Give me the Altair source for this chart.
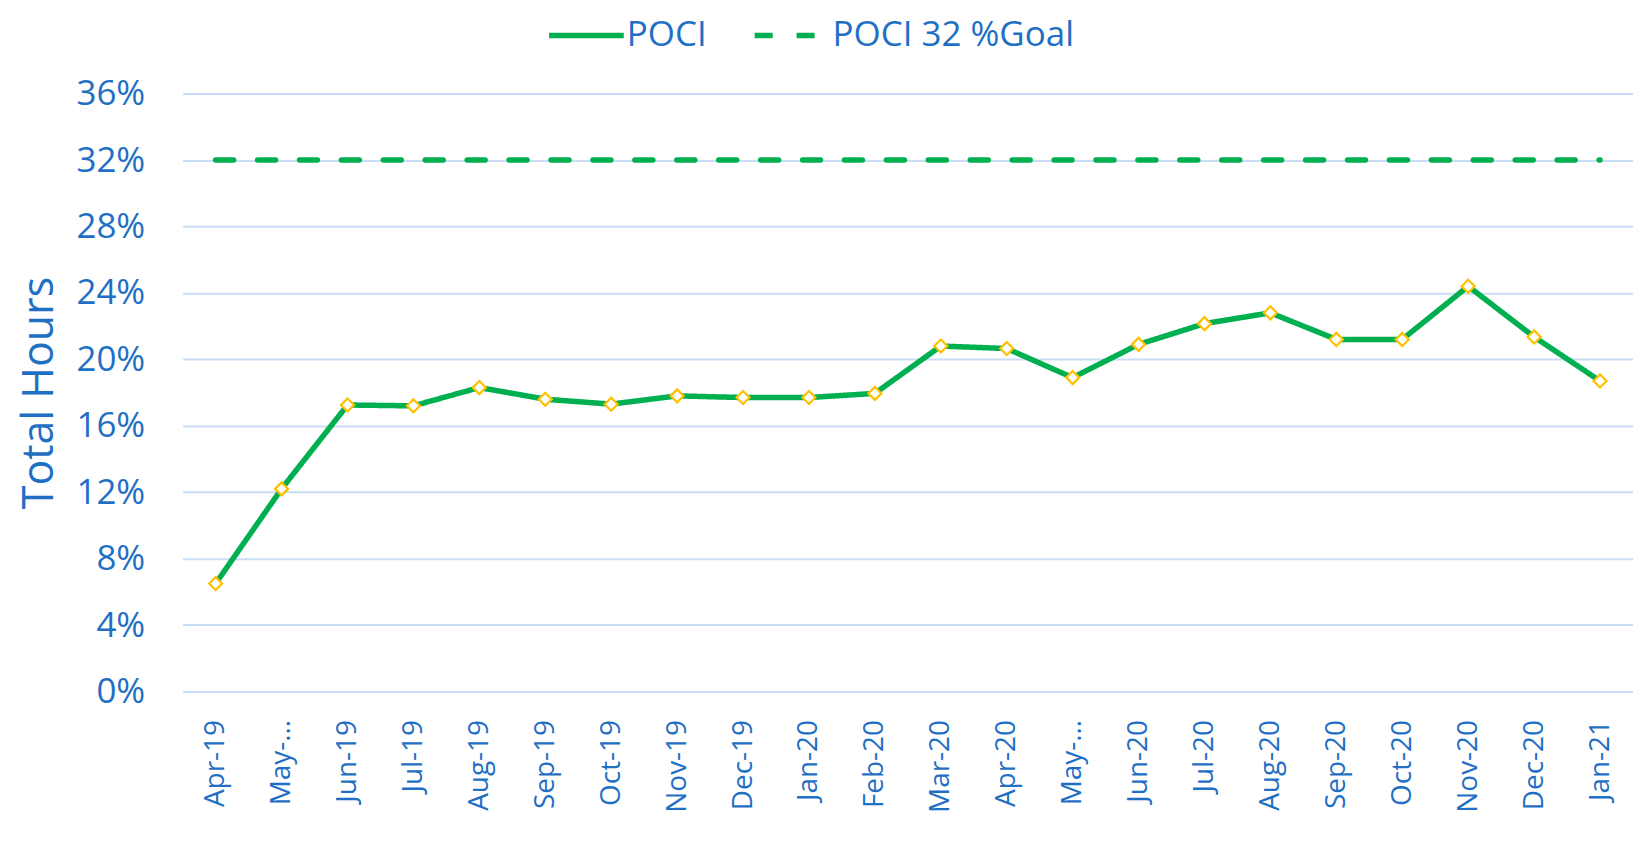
import altair as alt
import pandas as pd

months = ["Apr-19", "May-19", "Jun-19", "Jul-19", "Aug-19", "Sep-19", "Oct-19",
          "Nov-19", "Dec-19", "Jan-20", "Feb-20", "Mar-20", "Apr-20", "May-20",
          "Jun-20", "Jul-20", "Aug-20", "Sep-20", "Oct-20", "Nov-20", "Dec-20", "Jan-21"]
poci = [0.065, 0.122, 0.1725, 0.172, 0.183, 0.176, 0.173, 0.178, 0.177, 0.177,
        0.1795, 0.208, 0.2065, 0.189, 0.209, 0.2215, 0.228, 0.212, 0.212, 0.244,
        0.2135, 0.187]
goal = [0.32] * len(months)
series_names = ["POCI", "POCI 32 %Goal"]
y_ticks = [0, 0.04, 0.08, 0.12, 0.16, 0.20, 0.24, 0.28, 0.32, 0.36]

BLUE = "#1F6FC4"
GREEN = "#00B050"
GRID = "#C9DEF4"
FONT = "Open Sans"

df = pd.DataFrame({
    "Month": months * 2,
    "Value": poci + goal,
    "Series": [series_names[0]] * len(months) + [series_names[1]] * len(months),
})
df_poci = df[df["Series"] == "POCI"]

x_enc = alt.X("Month:O", sort=months, title=None,
              axis=alt.Axis(labelAngle=-90, labelAlign="right", labelBaseline="middle",
                            labelFontSize=28, labelColor=BLUE, labelFont=FONT,
                            ticks=False, domain=False, labelPadding=28,
                            labelExpr="indexof(datum.label, 'May-') == 0 ? 'May-\u2026' : datum.label"))
y_enc = alt.Y("Value:Q", title="Total Hours",
              scale=alt.Scale(domain=[0, 0.36], nice=False),
              axis=alt.Axis(values=y_ticks, format=".0%", labelFontSize=35, labelColor=BLUE,
                            labelFont=FONT, titleFont=FONT, titleFontSize=43,
                            titleColor=BLUE, titleFontWeight="normal", titlePadding=14,
                            ticks=False, domain=False, labelPadding=38,
                            grid=True, gridColor=GRID, gridWidth=2))

lines = alt.Chart(df).mark_line(strokeCap="round", strokeWidth=5.5).encode(
    x=x_enc,
    y=y_enc,
    color=alt.Color("Series:N", scale=alt.Scale(domain=series_names, range=[GREEN, GREEN]),
                    legend=alt.Legend(orient="none", legendX=364, legendY=-99, direction="horizontal",
                                      title=None, symbolType="stroke", symbolSize=5600,
                                      symbolStrokeWidth=5.5, labelFontSize=35, labelColor=BLUE,
                                      labelFont=FONT, columnPadding=36, labelOffset=0,
                                      labelLimit=500)),
    strokeDash=alt.StrokeDash("Series:N", scale=alt.Scale(domain=series_names, range=[[1, 0], [18, 24]]),
                              legend=None),
)

points = alt.Chart(df_poci).mark_point(shape="diamond", filled=True, fill="white",
                                       stroke="#FFC000", strokeWidth=2.2, size=170, opacity=1).encode(
    x=alt.X("Month:O", sort=months),
    y=alt.Y("Value:Q"),
)

chart = alt.layer(lines, points).properties(
    width=1453, height=599,
    autosize=alt.AutoSizeParams(type="none"),
    padding={"left": 175, "top": 85, "right": 0, "bottom": 141},
).configure_view(stroke=None)

chart.save("out.html", embed_options={"renderer": "svg", "actions": False})
